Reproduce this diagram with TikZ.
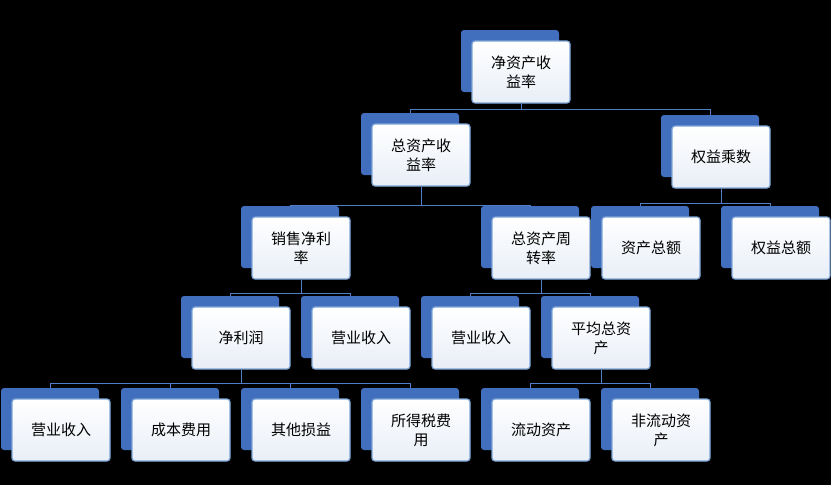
\documentclass[tikz,border=0pt]{standalone}
\usepackage{fontspec}
\newfontfamily\cjk{Noto Sans CJK SC}
\usetikzlibrary{positioning,calc}
\definecolor{backblue}{RGB}{66,110,190}
\definecolor{frontfill}{RGB}{232,238,247}
\definecolor{frontline}{RGB}{125,165,215}
\definecolor{linkblue}{RGB}{80,125,200}
\tikzset{
  backbox/.style={fill=backblue, rounded corners=3pt, minimum width=98pt, minimum height=62pt, inner sep=0pt},
  frontbox/.style={top color=white, bottom color=frontfill, draw=frontline, line width=1.2pt, rounded corners=3pt,
    minimum width=98pt, minimum height=62pt, align=center, font=\cjk\fontsize{15}{19}\selectfont, inner sep=2pt},
  link/.style={draw=linkblue, line width=0.9pt}
}
% back box b<name>, front box <name>
\newcommand{\tbox}[4]{%
  \node[backbox] (b#1) at (#2-11,#3-11) {};
  \node[frontbox] (#1) at (#2,#3) {#4};}
\begin{document}
\begin{tikzpicture}[x=1pt,y=-1pt]
\fill[black] (0,0) rectangle (831,485);
\useasboundingbox (0,0) rectangle (831,485);
% level 0-1
\tbox{roe}{521}{72}{净资产收\\益率}
\tbox{roa}{421}{155}{总资产收\\益率}
\tbox{em}{721}{157}{权益乘数}
% level 2
\tbox{npm}{301}{248}{销售净利\\率}
\tbox{tat}{541}{248}{总资产周\\转率}
\tbox{ta}{651}{248}{资产总额}
\tbox{te}{781}{248}{权益总额}
% level 3
\tbox{np}{241}{338}{净利润}
\tbox{rev}{361}{338}{营业收入}
\tbox{reva}{481}{338}{营业收入}
\tbox{ata}{601}{338}{平均总资\\产}
% level 4
\tbox{revb}{61}{430}{营业收入}
\tbox{cost}{181}{430}{成本费用}
\tbox{other}{301}{430}{其他损益}
\tbox{tax}{421}{430}{所得税费\\用}
\tbox{ca}{541}{430}{流动资产}
\tbox{nca}{661}{430}{非流动资\\产}
% connectors
\foreach \c in {roa,em} \draw[link] (roe.south) -- ++(0,6) -| (b\c.north);
\foreach \c in {npm,tat} \draw[link] (roa.south) -- ++(0,19) -| (b\c.north);
\foreach \c in {ta,te} \draw[link] (em.south) -- ++(0,15) -| (b\c.north);
\foreach \c in {np,rev} \draw[link] (npm.south) -- ++(0,14) -| (b\c.north);
\foreach \c in {reva,ata} \draw[link] (tat.south) -- ++(0,14) -| (b\c.north);
\foreach \c in {revb,cost,other,tax} \draw[link] (np.south) -- ++(0,14) -| (b\c.north);
\foreach \c in {ca,nca} \draw[link] (ata.south) -- ++(0,14) -| (b\c.north);
% redraw fronts over links
\end{tikzpicture}
\end{document}
